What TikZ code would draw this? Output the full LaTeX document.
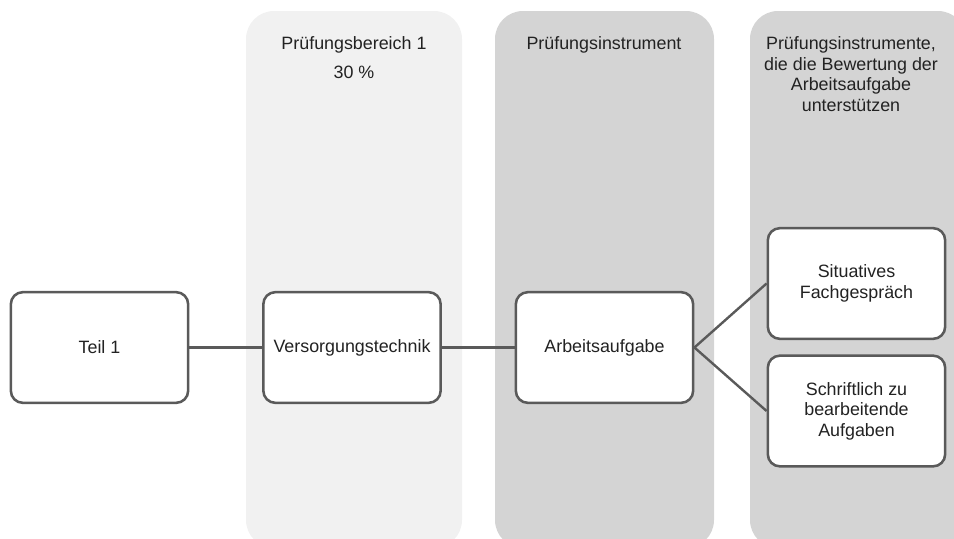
\documentclass[tikz,border=0pt]{standalone}
\usepackage{fontspec}
\setmainfont{Liberation Sans}
\definecolor{spaltehell}{HTML}{F1F1F1}
\definecolor{spaltedunkel}{HTML}{D4D4D4}
\definecolor{rahmen}{HTML}{5A5A5A}
\definecolor{schrift}{HTML}{222222}
\tikzset{
  feld/.style={draw=rahmen, line width=1.9pt, fill=white, rounded corners=9pt,
    minimum width=133pt, minimum height=83pt, align=center, text=schrift,
    font=\fontsize{13.4}{15.4}\selectfont},
  kopf/.style={align=center, text=schrift, font=\fontsize{13.4}{15.4}\selectfont},
  linie/.style={draw=rahmen, line width=1.8pt}
}
\begin{document}
\begin{tikzpicture}[x=0.75pt, y=-0.75pt]
    \useasboundingbox (0,0) rectangle (954,539);
    % Spalten
    \fill[spaltehell, rounded corners=21pt] (246,11) rectangle (462,548);
    \fill[spaltedunkel, rounded corners=21pt] (495,11) rectangle (714,548);
    \fill[spaltedunkel, rounded corners=21pt] (750,11) rectangle (966,548);
    % Kopfzeilen
    \node[kopf, anchor=north] (bereich) at (354,32) {Pr\"ufungsbereich 1\\[6.6pt]30 \%};
    \node[kopf, anchor=north] (instrument) at (604,32) {Pr\"ufungsinstrument};
    \node[kopf, anchor=north] (unterstuetzung) at (851,32) {Pr\"ufungsinstrumente,\\die die Bewertung der\\Arbeitsaufgabe\\unterst\"utzen};
    % Kaesten
    \node[feld] (teil) at (99.5,347.5) {Teil 1};
    \node[feld] (versorgung) at (352,347.5) {Versorgungstechnik};
    \node[feld] (aufgabe) at (604.5,347.5) {Arbeitsaufgabe};
    \node[feld] (gespraech) at (856.5,283.5) {Situatives\\Fachgespr\"ach};
    \node[feld] (schriftlich) at (856.5,411) {Schriftlich zu\\bearbeitende\\Aufgaben};
    % Verbindungen
    \draw[linie] (teil) -- (versorgung);
    \draw[linie] (versorgung) -- (aufgabe);
    \draw[linie] (aufgabe.east) -- (gespraech.west);
    \draw[linie] (aufgabe.east) -- (schriftlich.west);
\end{tikzpicture}
\end{document}
